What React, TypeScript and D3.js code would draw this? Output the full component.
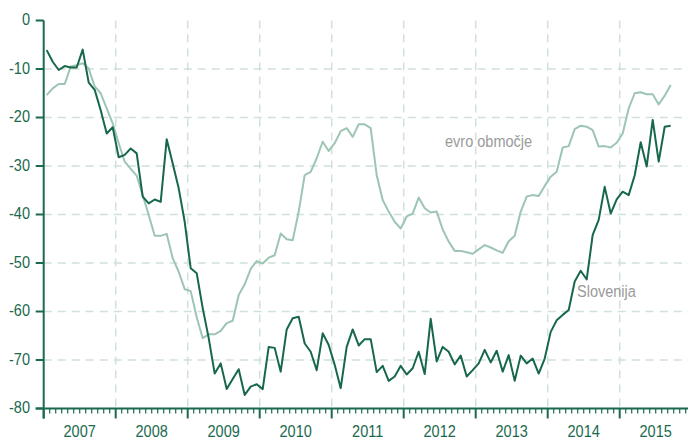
import React from "react";
import * as d3 from "d3";

const years = ["2007", "2008", "2009", "2010", "2011", "2012", "2013", "2014", "2015"];
const yTicks = [0, -10, -20, -30, -40, -50, -60, -70, -80];

const slovenija = [
  -6.1, -8.5, -10.2, -9.4, -9.7, -9.7, -6.0, -12.8, -14.3, -18.5, -23.3, -22.0,
  -28.2, -27.7, -26.4, -27.4, -36.3, -37.7, -36.9, -37.4, -24.5, -29.5, -34.6, -41.5,
  -51.1, -52.1, -59.3, -65.5, -72.8, -70.7, -76.0, -73.9, -71.9, -77.2, -75.5, -75.0,
  -76.0, -67.3, -67.5, -72.4, -63.7, -61.4, -61.1, -66.6, -68.3, -72.1, -64.5, -66.9,
  -71.0, -75.8, -67.3, -63.7, -67.0, -65.7, -65.7, -72.5, -71.2, -74.3, -73.4, -71.2,
  -73.0, -71.7, -68.3, -72.9, -61.5, -70.3, -67.3, -68.3, -70.9, -69.1, -73.4, -72.1,
  -70.7, -67.9, -70.5, -68.1, -72.4, -69.0, -74.3, -69.1, -70.7, -69.7, -72.8, -69.7,
  -64.2, -61.8, -60.7, -59.7, -53.8, -51.6, -53.4, -44.2, -41.1, -34.3, -39.8, -36.9,
  -35.3, -36.0, -31.9, -25.1, -30.1, -20.5, -29.1, -21.9, -21.7,
];

const evroObmocje = [
  -15.4, -14.0, -13.1, -13.1, -9.5, -9.2, -8.8, -9.9, -13.6, -15.0, -18.1, -21.2,
  -25.3, -29.1, -30.6, -32.0, -36.0, -40.1, -44.4, -44.4, -44.0, -49.0, -51.8, -55.4,
  -55.8, -61.2, -65.5, -64.7, -64.7, -64.0, -62.4, -61.9, -56.6, -54.4, -51.2, -49.6,
  -50.1, -48.9, -48.4, -43.9, -45.1, -45.3, -39.4, -31.9, -31.2, -28.4, -25.0, -26.9,
  -25.3, -22.8, -22.2, -24.0, -21.4, -21.4, -22.2, -31.9, -37.0, -39.4, -41.5, -42.9,
  -40.4, -39.8, -36.5, -38.7, -39.6, -39.4, -43.1, -45.6, -47.5, -47.5, -47.8, -48.1,
  -47.2, -46.3, -46.8, -47.4, -47.9, -45.5, -44.4, -39.4, -36.3, -36.0, -36.2, -34.1,
  -32.2, -31.2, -26.2, -25.9, -22.4, -21.7, -21.9, -22.6, -26.0, -25.9, -26.2, -25.2,
  -23.3, -18.1, -15.0, -14.8, -15.2, -15.2, -17.3, -15.5, -13.3,
];

const W = 688;
const H = 439;
const FONT = "'Liberation Sans', Arial, sans-serif";
const AXIS = "#1b6a4d";
const DARK = "#17684a";
const LIGHT = "#9dc5b4";
const GRID = "#cfe1d9";
const SX = 0.88;

function CText(props: {
  x: number;
  y: number;
  anchor?: "start" | "middle" | "end";
  fill: string;
  size: number;
  dy?: string;
  children: React.ReactNode;
}) {
  return (
    <text
      transform={`translate(${props.x},${props.y}) scale(${SX},1)`}
      textAnchor={props.anchor || "start"}
      fontSize={props.size}
      fill={props.fill}
      dy={props.dy}
    >
      {props.children}
    </text>
  );
}

export default function App() {
  const x = d3.scaleLinear().domain([0, 108]).range([43.7, 691.7]);
  const y = d3.scaleLinear().domain([-80, 0]).range([408.5, 20.5]);

  const line = d3
    .line<number>()
    .x((_, i) => x(i + 0.5))
    .y((d) => y(d));

  const months = d3.range(0, 109);
  const yearBounds = d3.range(1, 10).map((k) => k * 12);

  return (
    <svg
      width={W}
      height={H}
      style={{ position: "absolute", left: 0, top: 0, background: "#fff" }}
      fontFamily={FONT}
    >
      {/* horizontal grid */}
      {yTicks
        .filter((t) => t !== 0 && t !== -80)
        .map((t) => (
          <line
            key={"h" + t}
            x1={x(0)}
            x2={W}
            y1={y(t)}
            y2={y(t)}
            stroke={GRID}
            strokeWidth={1.5}
            strokeDasharray="8,6"
          />
        ))}
      {/* vertical grid */}
      {yearBounds.map((m) => (
        <line
          key={"v" + m}
          x1={x(m)}
          x2={x(m)}
          y1={y(0)}
          y2={y(-80)}
          stroke={GRID}
          strokeWidth={1.5}
          strokeDasharray="8,6"
        />
      ))}

      {/* series */}
      <path d={line(evroObmocje) || ""} fill="none" stroke={LIGHT} strokeWidth={2} strokeLinejoin="round" />
      <path d={line(slovenija) || ""} fill="none" stroke={DARK} strokeWidth={2} strokeLinejoin="round" />

      {/* y axis */}
      <line x1={x(0)} x2={x(0)} y1={y(0)} y2={y(-80) + 10} stroke={AXIS} strokeWidth={2} />
      {yTicks.map((t) => (
        <g key={"yt" + t}>
          <line x1={x(0) - 8} x2={x(0)} y1={y(t)} y2={y(t)} stroke={AXIS} strokeWidth={2} />
          <CText x={30} y={y(t)} dy="0.3em" anchor="end" size={16.5} fill={AXIS}>
            {t}
          </CText>
        </g>
      ))}

      {/* x axis */}
      <line x1={x(0) - 8} x2={W} y1={y(-80)} y2={y(-80)} stroke={AXIS} strokeWidth={2} />
      {months.map((m) => {
        const major = m % 12 === 0;
        return (
          <line
            key={"xt" + m}
            x1={x(m)}
            x2={x(m)}
            y1={y(-80)}
            y2={y(-80) + (major ? 10 : 5)}
            stroke={AXIS}
            strokeWidth={major ? 2 : 1.2}
          />
        );
      })}
      {years.map((yr, i) => (
        <CText key={yr} x={x(i * 12 + 6)} y={437} anchor="middle" size={16.5} fill={AXIS}>
          {yr}
        </CText>
      ))}

      {/* series labels */}
      <CText x={445} y={147} size={16.5} fill="#9a9a9a">
        evro območje
      </CText>
      <CText x={577} y={297} size={16.5} fill="#9a9a9a">
        Slovenija
      </CText>
    </svg>
  );
}
